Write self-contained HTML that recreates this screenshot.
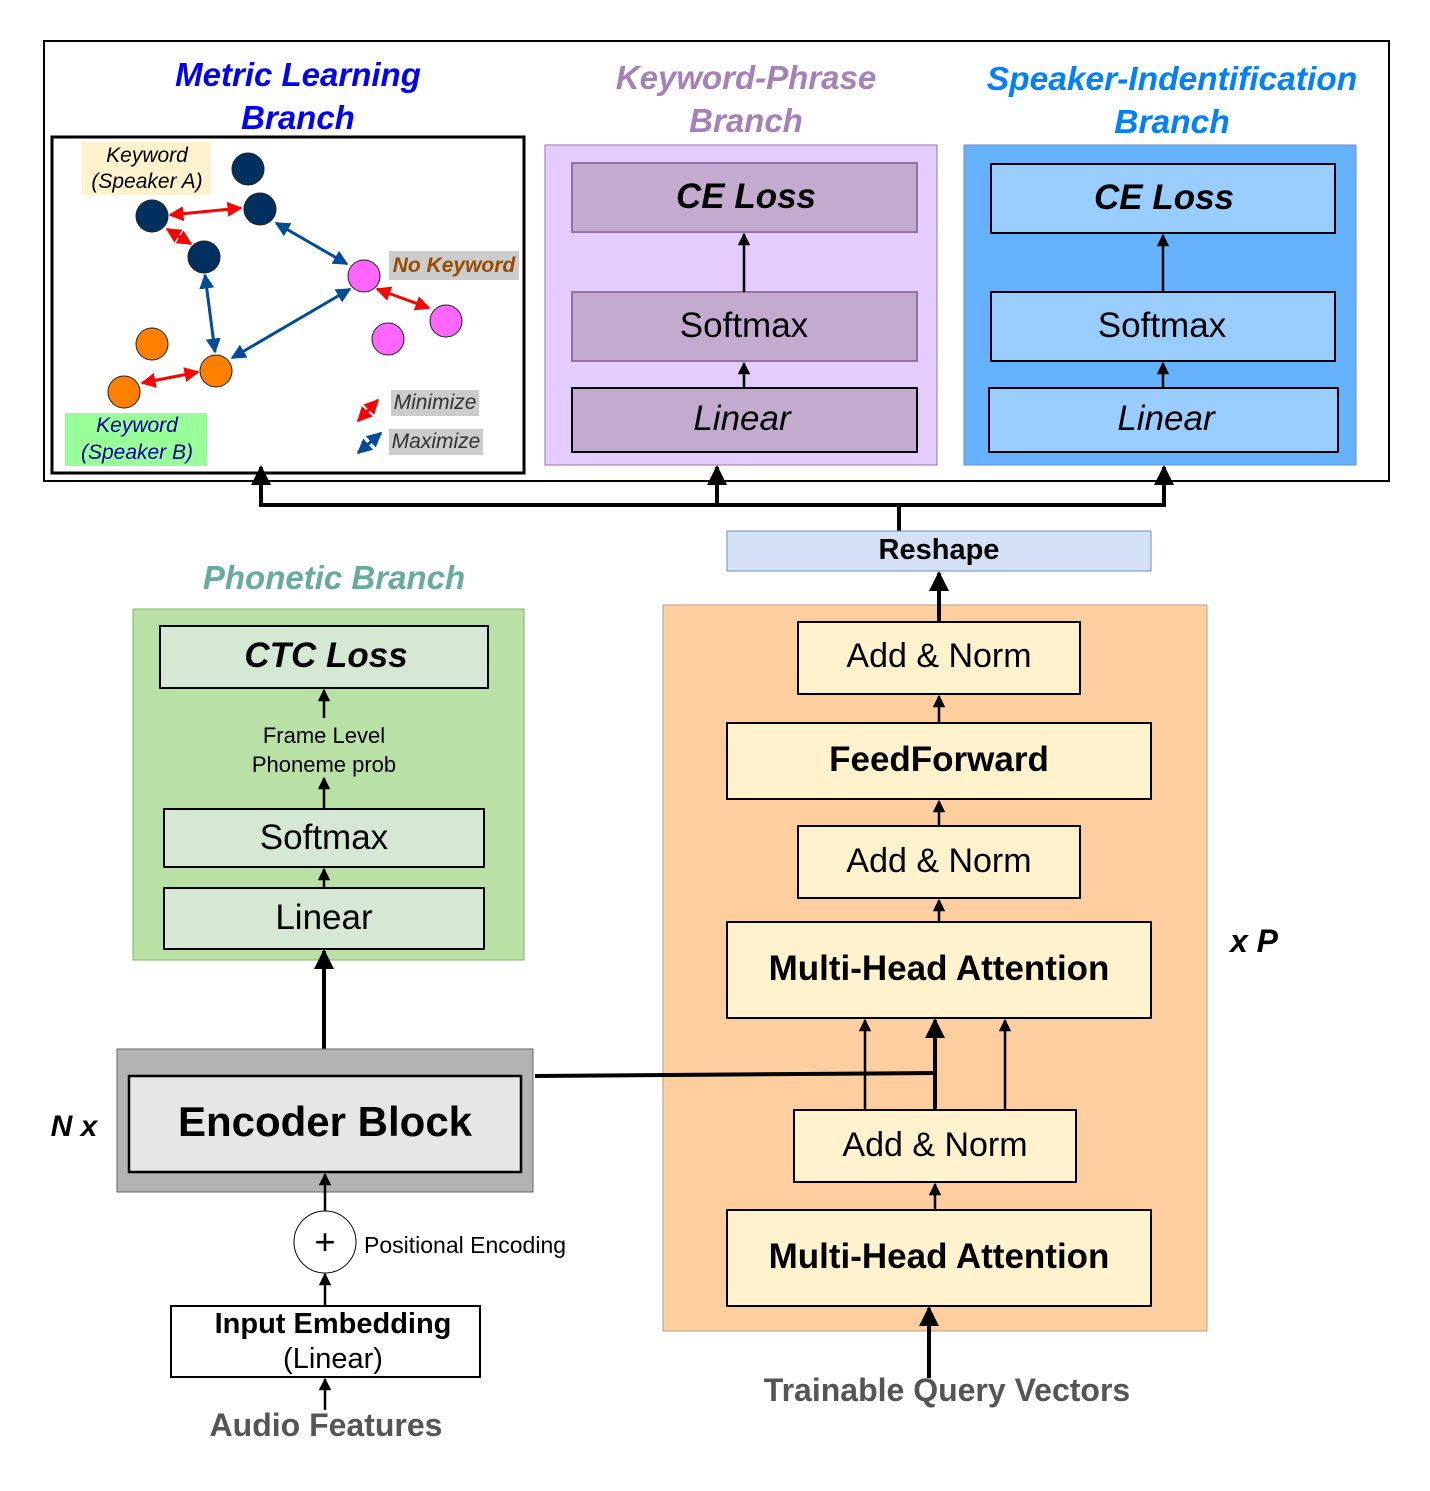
<!DOCTYPE html>
<html><head><meta charset="utf-8"><style>body{margin:0;background:#fff}svg{display:block}text{font-family:"Liberation Sans",Arial,sans-serif}</style></head><body>
<svg width="1430" height="1491" viewBox="0 0 1430 1491" xmlns="http://www.w3.org/2000/svg">
<defs>
<marker id="a" viewBox="0 0 10 10" refX="9" refY="5" markerWidth="5" markerHeight="5" orient="auto"><path d="M0,0L10,5L0,10z" fill="#000"/></marker>
<marker id="r" viewBox="0 0 10 10" refX="9" refY="5" markerWidth="5" markerHeight="5" orient="auto-start-reverse"><path d="M0,0L10,5L0,10z" fill="#f00"/></marker>
<marker id="b" viewBox="0 0 10 10" refX="9" refY="5" markerWidth="5" markerHeight="5" orient="auto-start-reverse"><path d="M0,0L10,5L0,10z" fill="#004C99"/></marker>
</defs>
<rect x="44" y="41" width="1345" height="440" fill="#fff" stroke="#000" stroke-width="2"/>
<text x="298" y="86" text-anchor="middle" font-size="33" font-weight="bold" font-style="italic" fill="#0000FF">Metric Learning</text>
<text x="298" y="129" text-anchor="middle" font-size="33" font-weight="bold" font-style="italic" fill="#0000FF">Branch</text>
<text x="746" y="89" text-anchor="middle" font-size="33" font-weight="bold" font-style="italic" fill="#A680B8">Keyword-Phrase</text>
<text x="746" y="132" text-anchor="middle" font-size="33" font-weight="bold" font-style="italic" fill="#A680B8">Branch</text>
<text x="1172" y="90" text-anchor="middle" font-size="33.5" font-weight="bold" font-style="italic" fill="#007FFF">Speaker-Indentification</text>
<text x="1172" y="133" text-anchor="middle" font-size="33.5" font-weight="bold" font-style="italic" fill="#007FFF">Branch</text>
<rect x="52" y="137" width="472" height="336" fill="#fff" stroke="#000" stroke-width="3"/>
<rect x="82" y="142" width="129" height="53" fill="#FFF2CC"/>
<text x="147" y="162" text-anchor="middle" font-size="21" font-style="italic">Keyword</text>
<text x="147" y="188" text-anchor="middle" font-size="21" font-style="italic">(Speaker A)</text>
<rect x="65" y="413" width="142" height="53" fill="#99FF99"/>
<text x="137" y="432" text-anchor="middle" font-size="21" font-style="italic" fill="#000099">Keyword</text>
<text x="137" y="459" text-anchor="middle" font-size="21" font-style="italic" fill="#000099">(Speaker B)</text>
<rect x="389" y="251" width="130" height="29" fill="#ccc"/>
<text x="454" y="272" text-anchor="middle" font-size="21" font-weight="bold" font-style="italic" fill="#994C00">No Keyword</text>
<rect x="391" y="390" width="88" height="26" fill="#ccc"/>
<text x="435" y="409" text-anchor="middle" font-size="21" font-style="italic" fill="#333">Minimize</text>
<rect x="389" y="429" width="94" height="26" fill="#ccc"/>
<text x="436" y="448" text-anchor="middle" font-size="21" font-style="italic" fill="#333">Maximize</text>
<g stroke-width="3" fill="none">
<line x1="170" y1="215" x2="241" y2="208" stroke="#f00" marker-start="url(#r)" marker-end="url(#r)"/>
<line x1="167" y1="229" x2="191" y2="244" stroke="#f00" marker-start="url(#r)" marker-end="url(#r)"/>
<line x1="276" y1="223" x2="347" y2="264" stroke="#004C99" marker-start="url(#b)" marker-end="url(#b)"/>
<line x1="205" y1="275" x2="215" y2="352" stroke="#004C99" marker-start="url(#b)" marker-end="url(#b)"/>
<line x1="232" y1="358" x2="350" y2="289" stroke="#004C99" marker-start="url(#b)" marker-end="url(#b)"/>
<line x1="377" y1="289" x2="429" y2="308" stroke="#f00" marker-start="url(#r)" marker-end="url(#r)"/>
<line x1="142" y1="383" x2="198" y2="372" stroke="#f00" marker-start="url(#r)" marker-end="url(#r)"/>
<line x1="358" y1="421" x2="378" y2="400" stroke="#f00" marker-start="url(#r)" marker-end="url(#r)"/>
<line x1="358" y1="453" x2="381" y2="433" stroke="#004C99" marker-start="url(#b)" marker-end="url(#b)"/>
</g>
<g stroke="#222" stroke-width="1">
<circle cx="248" cy="169" r="16" fill="#003060"/>
<circle cx="152" cy="216" r="16" fill="#003060"/>
<circle cx="260" cy="209" r="16" fill="#003060"/>
<circle cx="204" cy="257" r="16" fill="#003060"/>
<circle cx="364" cy="276" r="16" fill="#FF66FF"/>
<circle cx="446" cy="321" r="16" fill="#FF66FF"/>
<circle cx="388" cy="339" r="16" fill="#FF66FF"/>
<circle cx="152" cy="344" r="16" fill="#FF8000"/>
<circle cx="216" cy="371" r="16" fill="#FF8000"/>
<circle cx="124" cy="392" r="16" fill="#FF8000"/>
</g>
<rect x="545" y="145" width="392" height="320" fill="#E5CCFF" stroke="#9673A6"/>
<rect x="572" y="163" width="345" height="69" fill="#C3ABD0" stroke="#9673A6" stroke-width="2"/>
<text x="746" y="208" text-anchor="middle" font-size="35" font-weight="bold" font-style="italic">CE Loss</text>
<rect x="572" y="292" width="345" height="69" fill="#C3ABD0" stroke="#9673A6" stroke-width="2"/>
<text x="744" y="337" text-anchor="middle" font-size="35">Softmax</text>
<rect x="572" y="388" width="345" height="64" fill="#C3ABD0" stroke="#000" stroke-width="2"/>
<text x="742" y="430" text-anchor="middle" font-size="35" font-style="italic">Linear</text>
<line x1="744" y1="292" x2="744" y2="234" stroke="#000" stroke-width="2.5" marker-end="url(#a)"/>
<line x1="744" y1="388" x2="744" y2="363" stroke="#000" stroke-width="2.5" marker-end="url(#a)"/>
<rect x="964" y="145" width="392" height="320" fill="#66B2FF" stroke="#6C8EBF"/>
<rect x="991" y="164" width="344" height="69" fill="#99CCFF" stroke="#000" stroke-width="2"/>
<text x="1164" y="209" text-anchor="middle" font-size="35" font-weight="bold" font-style="italic">CE Loss</text>
<rect x="991" y="292" width="344" height="69" fill="#99CCFF" stroke="#000" stroke-width="2"/>
<text x="1162" y="337" text-anchor="middle" font-size="35">Softmax</text>
<rect x="989" y="388" width="349" height="64" fill="#99CCFF" stroke="#000" stroke-width="2"/>
<text x="1166" y="430" text-anchor="middle" font-size="35" font-style="italic">Linear</text>
<line x1="1163" y1="292" x2="1163" y2="235" stroke="#000" stroke-width="2.5" marker-end="url(#a)"/>
<line x1="1163" y1="388" x2="1163" y2="363" stroke="#000" stroke-width="2.5" marker-end="url(#a)"/>
<g stroke="#000" stroke-width="4" fill="none">
<polyline points="899,531 899,505 261,505 261,467" marker-end="url(#a)"/>
<line x1="717" y1="505" x2="717" y2="467" marker-end="url(#a)"/>
<polyline points="899,505 1164,505 1164,467" marker-end="url(#a)"/>
</g>
<rect x="727" y="531" width="424" height="40" fill="#D4E1F5" stroke="#6C8EBF"/>
<text x="939" y="559" text-anchor="middle" font-size="29" font-weight="bold">Reshape</text>
<text x="334" y="589" text-anchor="middle" font-size="33" font-weight="bold" font-style="italic" fill="#67AB9F">Phonetic Branch</text>
<rect x="133" y="609" width="391" height="351" fill="#B9E0A5" stroke="#82B366"/>
<rect x="160" y="626" width="328" height="62" fill="#D5E8D4" stroke="#000" stroke-width="2"/>
<text x="326" y="667" text-anchor="middle" font-size="35" font-weight="bold" font-style="italic">CTC Loss</text>
<text x="324" y="743" text-anchor="middle" font-size="22">Frame Level</text>
<text x="324" y="772" text-anchor="middle" font-size="22">Phoneme prob</text>
<rect x="164" y="809" width="320" height="58" fill="#D5E8D4" stroke="#000" stroke-width="2"/>
<text x="324" y="849" text-anchor="middle" font-size="35">Softmax</text>
<rect x="164" y="888" width="320" height="61" fill="#D5E8D4" stroke="#000" stroke-width="2"/>
<text x="324" y="929" text-anchor="middle" font-size="35">Linear</text>
<g stroke="#000" stroke-width="2.5">
<line x1="324" y1="718" x2="324" y2="690" marker-end="url(#a)"/>
<line x1="324" y1="809" x2="324" y2="778" marker-end="url(#a)"/>
<line x1="324" y1="888" x2="324" y2="869" marker-end="url(#a)"/>
</g>
<line x1="324" y1="1049" x2="324" y2="951" stroke="#000" stroke-width="4" marker-end="url(#a)"/>
<rect x="117" y="1049" width="416" height="143" fill="#B3B3B3" stroke="#666"/>
<rect x="129" y="1076" width="392" height="96" fill="#E6E6E6" stroke="#000" stroke-width="2.5"/>
<text x="325" y="1136" text-anchor="middle" font-size="42" font-weight="bold">Encoder Block</text>
<text x="74" y="1136" text-anchor="middle" font-size="30" font-weight="bold" font-style="italic">N x</text>
<line x1="325" y1="1212" x2="325" y2="1174" stroke="#000" stroke-width="2.5" marker-end="url(#a)"/>
<circle cx="325" cy="1242" r="31" fill="#fff" stroke="#000"/>
<text x="325" y="1254" text-anchor="middle" font-size="36">+</text>
<text x="364" y="1253" font-size="23">Positional Encoding</text>
<line x1="325" y1="1306" x2="325" y2="1274" stroke="#000" stroke-width="2.5" marker-end="url(#a)"/>
<rect x="171" y="1306" width="309" height="71" fill="#fff" stroke="#000" stroke-width="2"/>
<text x="333" y="1333" text-anchor="middle" font-size="29" font-weight="bold">Input Embedding</text>
<text x="333" y="1368" text-anchor="middle" font-size="29">(Linear)</text>
<line x1="325" y1="1410" x2="325" y2="1379" stroke="#000" stroke-width="2.5" marker-end="url(#a)"/>
<text x="326" y="1436" text-anchor="middle" font-size="32" font-weight="bold" fill="#555">Audio Features</text>
<rect x="663" y="605" width="544" height="726" fill="#FFCE9F" stroke="#B0A090"/>
<text x="1254" y="952" text-anchor="middle" font-size="32" font-weight="bold" font-style="italic">x P</text>
<line x1="939" y1="622" x2="939" y2="573" stroke="#000" stroke-width="4" marker-end="url(#a)"/>
<rect x="798" y="622" width="282" height="72" fill="#FFF2CC" stroke="#000" stroke-width="2"/>
<text x="939" y="667" text-anchor="middle" font-size="34">Add &amp; Norm</text>
<rect x="727" y="723" width="424" height="76" fill="#FFF2CC" stroke="#000" stroke-width="2"/>
<text x="939" y="771" text-anchor="middle" font-size="35" font-weight="bold">FeedForward</text>
<rect x="798" y="826" width="282" height="72" fill="#FFF2CC" stroke="#000" stroke-width="2"/>
<text x="939" y="872" text-anchor="middle" font-size="34">Add &amp; Norm</text>
<rect x="727" y="922" width="424" height="96" fill="#FFF2CC" stroke="#000" stroke-width="2"/>
<text x="939" y="980" text-anchor="middle" font-size="35" font-weight="bold">Multi-Head Attention</text>
<rect x="794" y="1110" width="282" height="72" fill="#FFF2CC" stroke="#000" stroke-width="2"/>
<text x="935" y="1156" text-anchor="middle" font-size="34">Add &amp; Norm</text>
<rect x="727" y="1210" width="424" height="96" fill="#FFF2CC" stroke="#000" stroke-width="2"/>
<text x="939" y="1268" text-anchor="middle" font-size="35" font-weight="bold">Multi-Head Attention</text>
<g stroke="#000" stroke-width="2.5">
<line x1="939" y1="723" x2="939" y2="696" marker-end="url(#a)"/>
<line x1="939" y1="826" x2="939" y2="801" marker-end="url(#a)"/>
<line x1="939" y1="922" x2="939" y2="900" marker-end="url(#a)"/>
<line x1="935" y1="1210" x2="935" y2="1184" marker-end="url(#a)"/>
<line x1="865" y1="1110" x2="865" y2="1020" marker-end="url(#a)"/>
<line x1="1005" y1="1110" x2="1005" y2="1020" marker-end="url(#a)"/>
</g>
<g stroke="#000" stroke-width="4" fill="none">
<polyline points="535,1076 935,1073"/>
<line x1="935" y1="1110" x2="935" y2="1020" marker-end="url(#a)"/>
<line x1="929" y1="1378" x2="929" y2="1308" marker-end="url(#a)"/>
</g>
<text x="947" y="1401" text-anchor="middle" font-size="32" font-weight="bold" fill="#555">Trainable Query Vectors</text>
</svg>
</body></html>
